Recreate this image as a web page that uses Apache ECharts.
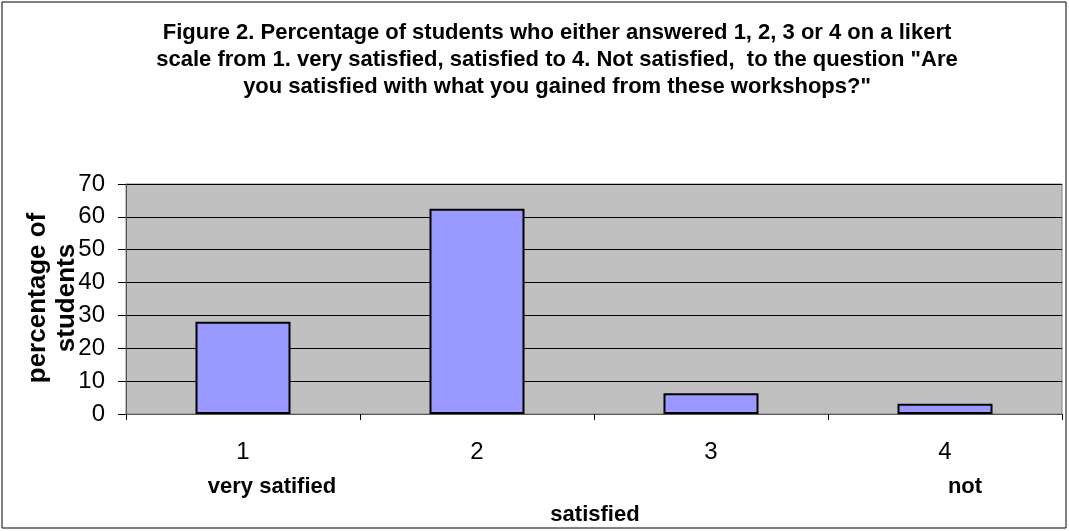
<!DOCTYPE html>
<html>
<head>
<meta charset="utf-8">
<script src="https://cdn.jsdelivr.net/npm/echarts@6/dist/echarts.min.js"></script>
<style>
  html, body { margin: 0; padding: 0; background: #fff; }
  #chart { width: 1069px; height: 531px; }
</style>
</head>
<body>
<div id="chart"></div>
<script>
// answers on the likert scale
const categories = ["1", "2", "3", "4"];
const percentValues = [28.1, 62.5, 6.3, 3.1];
const yMin = 0, yMax = 70, yStep = 10;

const titleText = 'Figure 2. Percentage of students who either answered 1, 2, 3 or 4 on a likert\n' +
  'scale from 1. very satisfied, satisfied to 4. Not satisfied,  to the question "Are\n' +
  'you satisfied with what you gained from these workshops?"';
const yTitle = "percentage of\nstudents";

const font = 'Arial, "Liberation Sans", sans-serif';

function boldText(text, x, y) {
  return {
    type: "text", x: x, y: y,
    style: { text: text, fontFamily: font, fontSize: 22, fontWeight: "bold", fill: "#000",
             align: "center", verticalAlign: "middle" }
  };
}

const chart = echarts.init(document.getElementById("chart"));
chart.setOption({
  animation: false,
  backgroundColor: "#fff",
  title: {
    text: titleText,
    left: 557,
    textAlign: "center",
    top: 19,
    padding: 0,
    textStyle: { fontFamily: font, fontSize: 22, fontWeight: "bold", color: "#000", lineHeight: 27 }
  },
  grid: {
    left: 126, right: 7, top: 184, bottom: 117,
    show: true, backgroundColor: "#c0c0c0", borderColor: "#808080", borderWidth: 1
  },
  xAxis: {
    type: "category",
    data: categories,
    axisLine: { lineStyle: { color: "#555", width: 1 } },
    axisTick: { show: true, length: 6, lineStyle: { color: "#000" } },
    axisLabel: { fontFamily: font, fontSize: 24, color: "#000", margin: 26 },
    splitLine: { show: false }
  },
  yAxis: {
    type: "value",
    min: yMin, max: yMax, interval: yStep,
    axisLine: { show: true, lineStyle: { color: "#555", width: 1 } },
    axisTick: { show: true, length: 8, lineStyle: { color: "#000" } },
    axisLabel: { fontFamily: font, fontSize: 24, color: "#000", margin: 21 },
    splitLine: { show: true, lineStyle: { color: "#000", width: 1 } }
  },
  series: [{
    type: "bar",
    data: percentValues,
    barWidth: "40.6%",
    itemStyle: { color: "#9999ff", borderColor: "#000", borderWidth: 2 }
  }],
  graphic: [
    { type: "rect", shape: { x: 2, y: 2, width: 1064, height: 526 },
      style: { fill: "none", stroke: "#000", lineWidth: 1 }, silent: true },
    { type: "text", x: 52, y: 298, rotation: Math.PI / 2,
      style: { text: yTitle, fontFamily: font, fontSize: 26, fontWeight: "bold", fill: "#000",
               align: "center", verticalAlign: "middle", lineHeight: 29 } },
    boldText("very satified", 272, 487),
    boldText("not", 965, 487),
    boldText("satisfied", 595, 515)
  ]
});
</script>
</body>
</html>
